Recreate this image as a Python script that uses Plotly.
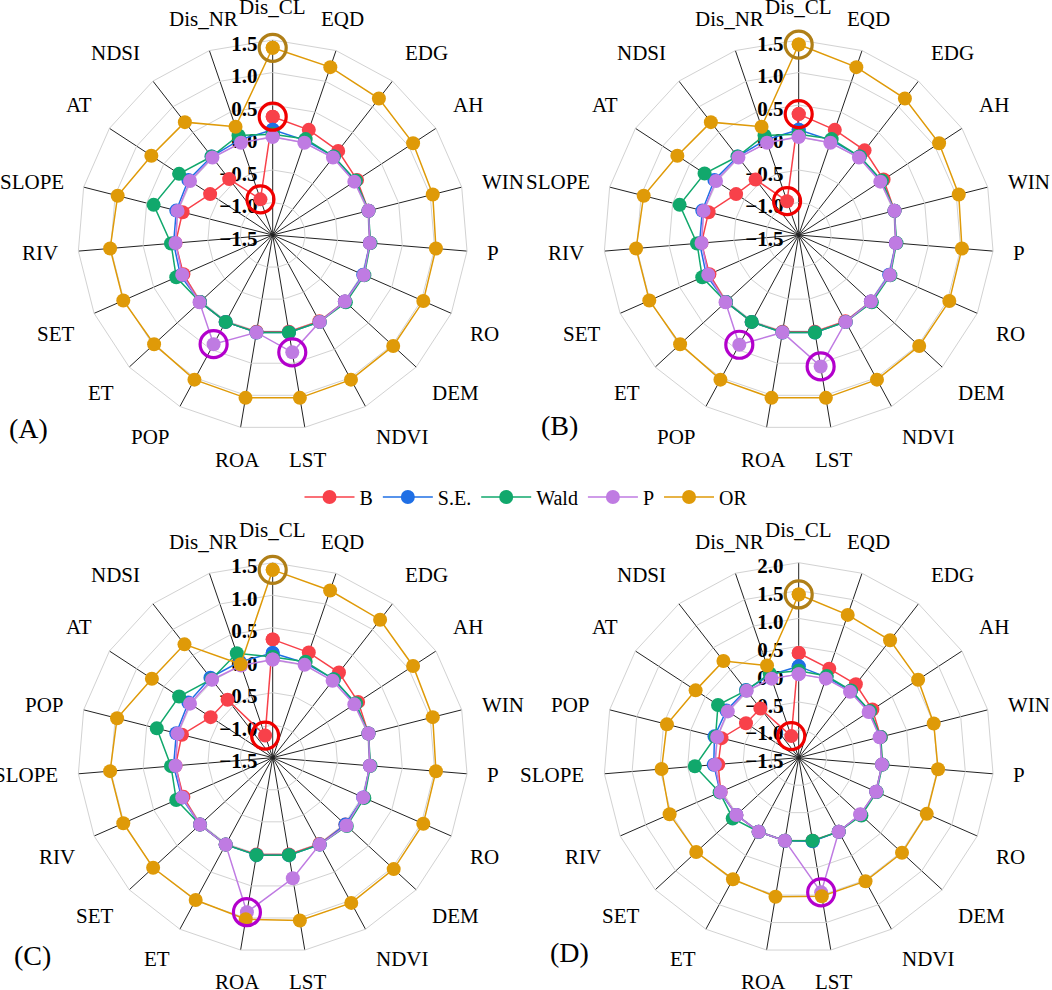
import math
import plotly.graph_objects as go

# ---------------- data ----------------
cats_ab = ["Dis_CL", "EQD", "EDG", "AH", "WIN", "P", "RO", "DEM", "NDVI", "LST",
           "ROA", "POP", "ET", "SET", "RIV", "SLOPE", "AT", "NDSI", "Dis_NR"]
cats_cd = ["Dis_CL", "EQD", "EDG", "AH", "WIN", "P", "RO", "DEM", "NDVI", "LST",
           "ROA", "ET", "SET", "RIV", "SLOPE", "POP", "AT", "NDSI", "Dis_NR"]

series_names = ["B", "S.E.", "Wald", "P", "OR"]

# Panel A
A_B    = [0.32, 0.21, 0.14, 0.05, 0.02, 0.00, 0.03, 0.01, 0.01, 0.01, 0.01, 0.02, 0.02, 0.00, 0.00, -0.07, -0.35, -0.41, -0.92]
A_SE   = [0.12, 0.04, 0.03, 0.02, 0.02, 0.00, 0.02, 0.01, 0.02, 0.02, 0.02, 0.02, 0.02, 0.05, 0.03, 0.03, 0.05, 0.03, 0.05]
A_Wald = [0.05, 0.06, 0.03, 0.03, 0.02, 0.01, 0.04, 0.03, 0.02, 0.02, 0.02, 0.02, 0.02, 0.12, 0.07, 0.39, 0.22, 0.03, 0.12]
A_P    = [0.01, 0.00, 0.01, 0.00, 0.02, 0.00, 0.03, 0.01, 0.02, 0.33, 0.02, 0.41, 0.03, 0.02, 0.00, 0.01, 0.02, 0.01, 0.00]
A_OR   = [1.38, 1.23, 1.16, 1.08, 1.04, 1.02, 1.03, 1.02, 1.03, 1.04, 1.04, 1.03, 0.98, 1.01, 1.01, 0.96, 0.73, 0.70, 0.26]

# Panel B
B_B    = [0.36, 0.21, 0.15, 0.06, 0.02, 0.00, 0.03, 0.01, 0.01, 0.01, 0.01, 0.02, 0.02, 0.00, 0.00, -0.07, -0.35, -0.42, -0.95]
B_SE   = [0.12, 0.04, 0.03, 0.02, 0.02, 0.00, 0.02, 0.01, 0.02, 0.02, 0.02, 0.02, 0.02, 0.05, 0.03, 0.03, 0.05, 0.03, 0.05]
B_Wald = [0.05, 0.06, 0.03, 0.03, 0.02, 0.01, 0.04, 0.03, 0.02, 0.02, 0.02, 0.02, 0.02, 0.12, 0.07, 0.39, 0.23, 0.03, 0.12]
B_P    = [0.01, 0.00, 0.01, 0.00, 0.02, 0.00, 0.03, 0.01, 0.02, 0.55, 0.02, 0.42, 0.03, 0.02, 0.00, 0.01, 0.02, 0.01, 0.00]
B_OR   = [1.43, 1.23, 1.16, 1.08, 1.04, 1.02, 1.03, 1.02, 1.03, 1.04, 1.04, 1.03, 0.98, 1.01, 1.01, 0.96, 0.73, 0.70, 0.26]

# Panel C
C_B    = [0.32, 0.21, 0.16, 0.07, 0.02, 0.00, 0.03, 0.02, 0.01, 0.01, 0.01, 0.02, 0.02, 0.00, 0.00, -0.06, -0.36, -0.37, -1.14]
C_SE   = [0.11, 0.04, 0.03, 0.02, 0.02, 0.00, 0.02, 0.02, 0.02, 0.02, 0.02, 0.02, 0.02, 0.03, 0.03, 0.03, 0.05, 0.06, 0.06]
C_Wald = [0.05, 0.06, 0.03, 0.03, 0.02, 0.01, 0.04, 0.05, 0.02, 0.02, 0.02, 0.02, 0.02, 0.12, 0.07, 0.34, 0.22, 0.03, 0.20]
C_P    = [0.01, 0.01, 0.00, 0.00, 0.02, 0.00, 0.02, 0.04, 0.02, 0.38, 0.91, 0.02, 0.02, 0.02, 0.00, 0.01, 0.02, 0.02, 0.00]
C_OR   = [1.39, 1.22, 1.19, 1.08, 1.04, 1.02, 1.03, 1.03, 1.04, 1.04, 1.02, 0.99, 1.00, 1.01, 1.01, 0.97, 0.72, 0.71, 0.02]

# Panel D
D_B    = [0.38, 0.19, 0.17, 0.08, 0.02, 0.00, 0.02, 0.01, 0.01, 0.01, 0.01, 0.01, 0.02, 0.03, -0.05, -0.07, -0.37, -0.38, -1.09]
D_SE   = [0.14, 0.03, 0.02, 0.02, 0.01, 0.00, 0.02, 0.01, 0.01, 0.02, 0.01, 0.01, 0.02, 0.04, 0.03, 0.06, 0.05, 0.04, 0.07]
D_Wald = [0.06, 0.05, 0.03, 0.03, 0.02, 0.01, 0.03, 0.03, 0.01, 0.01, 0.01, 0.01, 0.11, 0.05, 0.37, 0.04, 0.23, 0.03, 0.10]
D_P    = [0.00, 0.00, 0.00, 0.00, 0.00, 0.00, 0.02, 0.00, 0.01, 0.95, 0.01, 0.01, 0.02, 0.03, 0.01, 0.01, 0.02, 0.02, 0.00]
D_OR   = [1.43, 1.21, 1.17, 1.06, 1.00, 1.01, 1.01, 1.02, 1.02, 1.02, 1.03, 0.98, 1.00, 1.03, 0.97, 0.94, 0.71, 0.70, 0.25]

radial_ranges = {"A": [-1.5, 1.5], "B": [-1.5, 1.5], "C": [-1.5, 1.5], "D": [-1.5, 2.0]}

# highlighted points (series, category) per panel
highlights = {
    "A": [("OR", "Dis_CL"), ("B", "Dis_CL"), ("B", "Dis_NR"), ("P", "POP"), ("P", "LST")],
    "B": [("OR", "Dis_CL"), ("B", "Dis_CL"), ("B", "Dis_NR"), ("P", "POP"), ("P", "LST")],
    "C": [("OR", "Dis_CL"), ("B", "Dis_NR"), ("P", "ROA")],
    "D": [("OR", "Dis_CL"), ("B", "Dis_NR"), ("P", "LST")],
}

# ---------------- styles ----------------
colors = {"B": "#F8414A", "S.E.": "#1F6FE5", "Wald": "#11A86C", "P": "#BF7BE2", "OR": "#DF9A08"}
hl_colors = {"B": "#F00000", "P": "#B300CC", "OR": "#B07F17"}
FONT = "Liberation Serif, Times New Roman, serif"
LABEL_SIZE = 21

W, H = 1052, 990
R = 195.0            # outer polygon radius (px)
LABEL_R = 214.5      # distance of category label anchor from centre (px)
LABEL_VOFF = 13.0    # vertical offset of top/bottom aligned labels (px)
centers = {"A": (272.7, 235.0), "B": (798.7, 235.0), "C": (272.7, 757.7), "D": (798.7, 757.7)}
grid_ids = {"A": "polar", "B": "polar2", "C": "polar3", "D": "polar4"}
data_ids = {"A": "polar5", "B": "polar6", "C": "polar7", "D": "polar8"}
label_pos = {"A": (28, 428), "B": (559, 425), "C": (32, 955), "D": (569, 952)}

panels = {
    "A": (cats_ab, [A_B, A_SE, A_Wald, A_P, A_OR]),
    "B": (cats_ab, [B_B, B_SE, B_Wald, B_P, B_OR]),
    "C": (cats_cd, [C_B, C_SE, C_Wald, C_P, C_OR]),
    "D": (cats_cd, [D_B, D_SE, D_Wald, D_P, D_OR]),
}

fig = go.Figure()

for pk, (cats, vals_list) in panels.items():
    # invisible anchor trace so the polygon grid subplot is drawn
    fig.add_trace(go.Scatterpolar(
        r=[radial_ranges[pk][0]], theta=[cats[0]], mode="markers",
        marker=dict(opacity=0), showlegend=False, hoverinfo="skip",
        subplot=grid_ids[pk],
    ))
    sid = data_ids[pk]
    for name, vals in zip(series_names, vals_list):
        fig.add_trace(go.Scatterpolar(
            r=list(vals) + [vals[0]],
            theta=list(cats) + [cats[0]],
            mode="lines+markers",
            name=name,
            legendgroup=name,
            showlegend=(pk == "A"),
            line=dict(color=colors[name], width=1.5),
            marker=dict(color=colors[name], size=14),
            cliponaxis=False,
            subplot=sid,
        ))
    for sname, cat in highlights[pk]:
        vals = vals_list[series_names.index(sname)]
        fig.add_trace(go.Scatterpolar(
            r=[vals[cats.index(cat)]],
            theta=[cat],
            mode="markers",
            showlegend=False,
            marker=dict(symbol="circle-open", size=27, color=hl_colors[sname],
                        line=dict(width=3.2, color=hl_colors[sname])),
            cliponaxis=False,
            subplot=sid,
        ))

annotations = []
layout = dict(
    width=W, height=H,
    margin=dict(l=0, r=0, t=0, b=0),
    paper_bgcolor="white",
    plot_bgcolor="white",
    font=dict(family=FONT, color="black"),
    showlegend=True,
    legend=dict(orientation="h", x=0.5, xanchor="center", y=1 - 497 / H, yanchor="middle",
                font=dict(family=FONT, size=20, color="black"), itemwidth=50,
                bgcolor="rgba(0,0,0,0)"),
)

for pk in panels:
    cx, cy = centers[pk]
    dom = dict(x=[(cx - R) / W, (cx + R) / W], y=[1 - (cy + R) / H, 1 - (cy - R) / H])
    cats = panels[pk][0]
    # grid / radial labels subplot (polygon)
    layout[grid_ids[pk]] = dict(
        domain=dom,
        bgcolor="white",
        gridshape="linear",
        radialaxis=dict(
            range=radial_ranges[pk], dtick=0.5, tickformat=".1f",
            angle=90, side="counterclockwise",
            showline=False, ticks="", showgrid=True,
            gridcolor="#D2D2D2", gridwidth=1,
            tickfont=dict(family=FONT, size=21, color="black", weight="bold"),
        ),
        angularaxis=dict(
            type="category", categoryarray=cats, categoryorder="array",
            direction="clockwise", rotation=90,
            showline=True, linecolor="#D2D2D2", linewidth=1,
            gridcolor="#222222", gridwidth=1,
            ticks="", showticklabels=False,
        ),
    )
    # transparent data subplot, same scales, on top
    layout[data_ids[pk]] = dict(
        domain=dom,
        bgcolor="rgba(0,0,0,0)",
        gridshape="circular",
        radialaxis=dict(range=radial_ranges[pk], visible=False, showgrid=False,
                        showline=False, showticklabels=False, ticks=""),
        angularaxis=dict(type="category", categoryarray=cats, categoryorder="array",
                         direction="clockwise", rotation=90, visible=False,
                         showgrid=False, showline=False, showticklabels=False, ticks=""),
    )
    # category labels outside each polygon vertex
    n = len(cats)
    for k, cat in enumerate(cats):
        th = 2 * math.pi * k / n
        s, c = math.sin(th), math.cos(th)
        x = cx + LABEL_R * s
        y = cy - LABEL_R * c
        if abs(s) < 0.35:
            xa = "center"
        else:
            xa = "left" if s > 0 else "right"
        if abs(c) >= 0.3:
            y += -LABEL_VOFF if c > 0 else LABEL_VOFF
        annotations.append(dict(
            text=cat, x=x / W, y=1 - y / H, xref="paper", yref="paper",
            showarrow=False, xanchor=xa, yanchor="middle", borderpad=0,
            font=dict(family=FONT, size=LABEL_SIZE, color="black"),
        ))
    lx, ly = label_pos[pk]
    annotations.append(dict(
        text="(" + pk + ")", x=lx / W, y=1 - ly / H, xref="paper", yref="paper",
        showarrow=False, xanchor="center", yanchor="middle",
        font=dict(family=FONT, size=28, color="black"),
    ))

layout["annotations"] = annotations
fig.update_layout(**layout)
fig.write_html("out.html", config={"displayModeBar": False},
               post_script="document.body.style.margin='0';")
